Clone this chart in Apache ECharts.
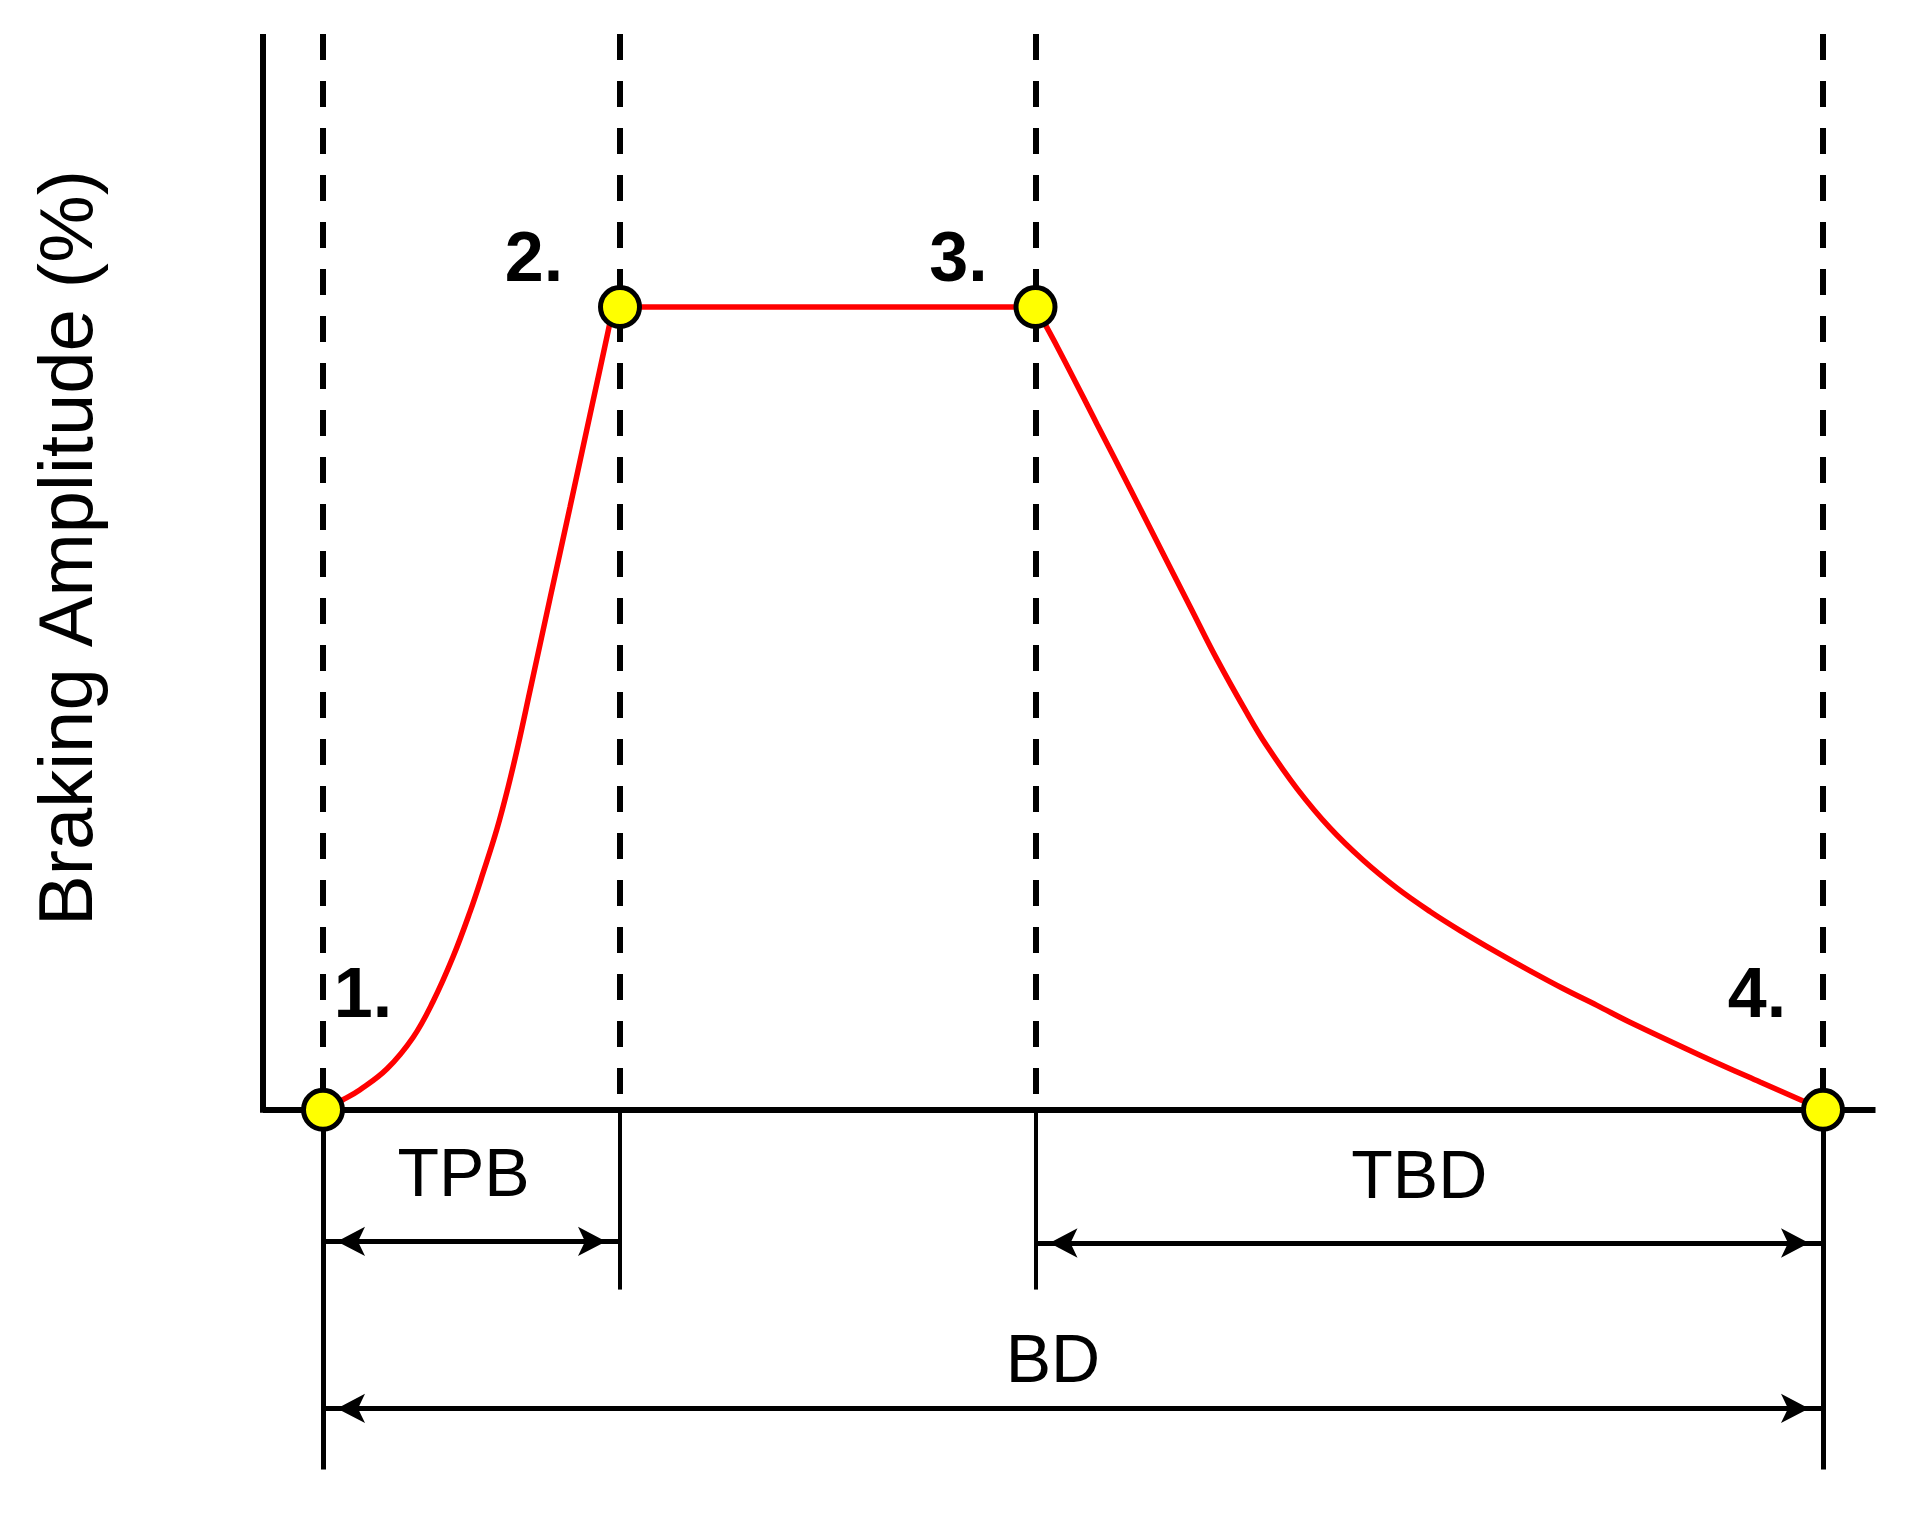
<!DOCTYPE html>
<html>
<head>
<meta charset="utf-8">
<script src="https://cdn.jsdelivr.net/npm/echarts@6/dist/echarts.min.js"></script>
<style>
  html, body { margin: 0; background: #fff; }
  #chart { width: 1909px; height: 1518px; }
</style>
</head>
<body>
<div id="chart"></div>
<script>
// braking profile: time in % of braking duration, amplitude in %
const riseTime = [0, 1.33, 2.47, 4.27, 6.0, 7.33, 8.67, 9.8, 10.67, 11.6, 12.33, 13.0, 13.8, 15.13, 16.47, 17.8, 19.0, 19.33]
const riseAmp = [0, 1.25, 2.5, 5.1, 9.0, 13.45, 19.05, 24.65, 29.5, 35.0, 40.1, 45.35, 52.2, 63.65, 75.1, 86.55, 96.9, 100]
const holdTime = [19.8, 47.5]
const holdAmp = [100, 100]
const decayTime = [47.5, 49.13, 51.6, 53.8, 56.0, 57.8, 59.6, 61.6, 62.93, 64.93, 67.13, 69.33, 71.6, 73.8, 76.0, 78.27, 80.47, 82.67, 84.93, 87.13, 91.8, 95.8, 100]
const decayAmp = [100, 94.4, 85.4, 77.4, 69.3, 62.7, 56.1, 49.4, 45.3, 40.0, 35.1, 31.1, 27.6, 24.7, 22.1, 19.6, 17.3, 15.1, 13.0, 10.9, 6.8, 3.45, 0]

// key points 1..4
const phaseTime = [0, 19.8, 47.5, 100]
const phaseAmp = [0, 100, 100, 0]
const phaseNames = ['1.', '2.', '3.', '4.']

// measured spans below the axis
const spanNames = ['TPB', 'TBD', 'BD']
const spanStart = [0, 47.5, 0]
const spanEnd = [19.8, 100, 100]

const yTitle = 'Braking Amplitude (%)'

// axis extents (the area below zero holds the span annotations)
const X_MIN = -4, X_MAX = 103.5
const Y_MIN = -45, Y_MAX = 134
const FONT = 'Liberation Sans, Arial, sans-serif'

function zip(xs, ys) {
  return xs.map((x, i) => [x, ys[i]])
}

function seg(x1, y1, x2, y2, lineStyle, extra) {
  const a = Object.assign({ coord: [x1, y1], lineStyle: lineStyle }, extra || {})
  const b = { coord: [x2, y2] }
  if (extra && extra.symbol) {
    b.symbol = extra.symbol
    b.symbolSize = extra.symbolSize
    b.symbolOffset = extra.symbolOffset
  }
  return [a, b]
}

const axisStyle = { color: '#000', width: 6, type: 'solid', cap: 'butt' }
const longTick = { color: '#000', width: 5, type: 'solid', cap: 'butt' }
const shortTick = { color: '#000', width: 4, type: 'solid', cap: 'butt' }
const arrowLine = { color: '#000', width: 5, type: 'solid', cap: 'butt' }
const dashed = { color: '#000', width: 6, type: [26, 21], cap: 'butt' }

const guides = []
// axes
guides.push(seg(X_MIN, 0, X_MAX, 0, axisStyle))
guides.push(seg(X_MIN, -0.37, X_MIN, Y_MAX, axisStyle))
// dashed verticals at each key point
phaseTime.forEach(t => guides.push(seg(t, Y_MAX, t, 0, dashed)))
// extension lines below the axis
guides.push(seg(phaseTime[0], 0, phaseTime[0], -44.8, longTick))
guides.push(seg(phaseTime[3], 0, phaseTime[3], -44.8, longTick))
guides.push(seg(phaseTime[1], 0, phaseTime[1], -22.4, shortTick))
guides.push(seg(phaseTime[2], 0, phaseTime[2], -22.4, shortTick))
// span arrows
const spanY = [-16.4, -16.6, -37.2]
const spanLabelGap = [30, 30, 11]
const spanLabelShift = [16, 20, 40]
spanNames.forEach((name, i) => {
  const arrow = {
    symbol: 'arrow', symbolSize: [22, 28], symbolOffset: [0, 14],
    label: {
      show: true, formatter: name, position: 'middle', distance: spanLabelGap[i],
      padding: [0, spanLabelShift[i], 0, 0],
      color: '#000', fontSize: 68, fontFamily: FONT
    }
  }
  guides.push(seg(spanStart[i], spanY[i], spanEnd[i], spanY[i], arrowLine, arrow))
})

const LABEL_OFFSETS = [[40, -112], [-86, -45], [-77, -45], [-66, -112]]

const redLine = { color: '#ff0000', width: 5.5 }

const option = {
  animation: false,
  backgroundColor: '#fff',
  grid: { left: 263, right: 33.5, top: 34, bottom: 47 },
  xAxis: { type: 'value', min: X_MIN, max: X_MAX, show: false },
  yAxis: { type: 'value', min: Y_MIN, max: Y_MAX, show: false },
  graphic: [{
    type: 'text',
    x: 71, y: 548,
    rotation: Math.PI / 2,
    style: {
      text: yTitle, fill: '#000', fontSize: 76, fontFamily: FONT,
      align: 'center', verticalAlign: 'middle',
      textAlign: 'center', textVerticalAlign: 'middle'
    }
  }],
  series: [
    {
      name: 'guides', type: 'line', data: [], z: 1, silent: true,
      markLine: {
        z: 1, silent: true, symbol: 'none', animation: false,
        label: { show: false },
        emphasis: { disabled: true },
        data: guides
      }
    },
    {
      name: 'rise', type: 'line', z: 3, smooth: 0.4, showSymbol: false,
      lineStyle: redLine, data: zip(riseTime, riseAmp)
    },
    {
      name: 'hold', type: 'line', z: 3, showSymbol: false,
      lineStyle: redLine, data: zip(holdTime, holdAmp)
    },
    {
      name: 'decay', type: 'line', z: 3, smooth: 0.4, showSymbol: false,
      lineStyle: redLine, data: zip(decayTime, decayAmp)
    },
    {
      name: 'phases', type: 'scatter', z: 4, symbolSize: 39,
      itemStyle: { color: '#ffff00', borderColor: '#000', borderWidth: 5, opacity: 1 },
      label: {
        show: true, position: 'inside', formatter: '{b}',
        color: '#000', fontSize: 70, fontWeight: 'bold', fontFamily: FONT
      },
      data: phaseTime.map((t, i) => ({
        name: phaseNames[i],
        value: [t, phaseAmp[i]],
        label: { offset: LABEL_OFFSETS[i] }
      }))
    }
  ]
}

const myChart = echarts.init(document.getElementById('chart'))
myChart.setOption(option)
</script>
</body>
</html>
